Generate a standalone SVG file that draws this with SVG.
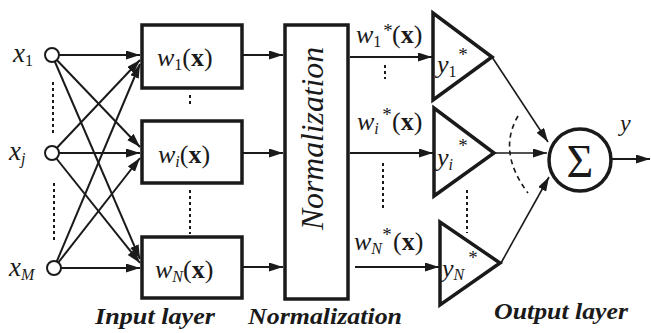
<svg xmlns="http://www.w3.org/2000/svg" width="651" height="333" viewBox="0 0 651 333">
<style>
text{font-family:"Liberation Serif","Times New Roman",serif;fill:#1a1a1a}
.it{font-style:italic}
.bd{font-weight:bold}
.sub{font-size:16px}
.star{font-size:19px}
.box{fill:#fff;stroke:#1a1a1a;stroke-width:3.5}
.inp{fill:#fff;stroke:#1a1a1a;stroke-width:2}
.ln{stroke:#1a1a1a;stroke-width:2;fill:none}
.thin{stroke:#1a1a1a;stroke-width:1.6;fill:none}
.dot{stroke:#1a1a1a;stroke-width:2;stroke-dasharray:3 3;fill:none}
.cap{font-size:23px;font-weight:bold;font-style:italic}
</style>
<defs>
<marker id="ah" markerUnits="userSpaceOnUse" markerWidth="15" markerHeight="10" refX="14" refY="4.5" orient="auto">
<path d="M0,0 L14,4.5 L0,9 z" fill="#1a1a1a"/>
</marker>
</defs>
<g id="connectors">
<line class="ln" x1="52" y1="55" x2="140" y2="55" marker-end="url(#ah)"/>
<line class="ln" x1="52" y1="153" x2="140" y2="60" marker-end="url(#ah)"/>
<line class="ln" x1="54" y1="268" x2="140" y2="64" marker-end="url(#ah)"/>
<line class="ln" x1="52" y1="55" x2="140" y2="147" marker-end="url(#ah)"/>
<line class="ln" x1="52" y1="153" x2="140" y2="153" marker-end="url(#ah)"/>
<line class="ln" x1="54" y1="268" x2="140" y2="158" marker-end="url(#ah)"/>
<line class="ln" x1="52" y1="55" x2="140" y2="259" marker-end="url(#ah)"/>
<line class="ln" x1="52" y1="153" x2="140" y2="263" marker-end="url(#ah)"/>
<line class="ln" x1="54" y1="268" x2="140" y2="268" marker-end="url(#ah)"/>
<line class="ln" x1="243" y1="55" x2="283" y2="55" marker-end="url(#ah)"/>
<line class="ln" x1="243" y1="153" x2="283" y2="153" marker-end="url(#ah)"/>
<line class="ln" x1="243" y1="267" x2="283" y2="267" marker-end="url(#ah)"/>
<line class="ln" x1="350" y1="57" x2="432" y2="57" marker-end="url(#ah)"/>
<line class="ln" x1="350" y1="153" x2="433" y2="153" marker-end="url(#ah)"/>
<line class="ln" x1="355" y1="267" x2="439" y2="267" marker-end="url(#ah)"/>
<line class="thin" x1="492" y1="57" x2="548" y2="142" marker-end="url(#ah)"/>
<line class="thin" x1="495" y1="153" x2="547" y2="153" marker-end="url(#ah)"/>
<line class="thin" x1="501" y1="263" x2="549" y2="177" marker-end="url(#ah)"/>
<line class="ln" x1="612" y1="159" x2="650" y2="159" marker-end="url(#ah)"/>
<line class="dot" x1="53" y1="82" x2="53" y2="134"/>
<line class="dot" x1="54" y1="183" x2="54" y2="241"/>
<line class="dot" x1="190" y1="95" x2="190" y2="106"/>
<line class="dot" x1="190" y1="190" x2="190" y2="234"/>
<line class="dot" x1="385" y1="65" x2="385" y2="79"/>
<line class="dot" x1="383" y1="163" x2="383" y2="211"/>
<line class="dot" x1="467" y1="190" x2="467" y2="233"/>
<path class="thin" d="M518,116 Q497,152 528,193" stroke-dasharray="5 4"/>
</g>
<g id="x1">
<circle class="inp" cx="52" cy="55" r="7"/>
<text x="13" y="62" font-size="27"><tspan class="it">x</tspan><tspan class="sub" dy="4">1</tspan></text>
</g>
<g id="xj">
<circle class="inp" cx="52" cy="153" r="7"/>
<text x="9" y="160" font-size="27"><tspan class="it">x</tspan><tspan class="sub it" dy="4">j</tspan></text>
</g>
<g id="xM">
<circle class="inp" cx="54" cy="268" r="7"/>
<text x="9" y="276" font-size="27"><tspan class="it">x</tspan><tspan class="sub it" dy="4">M</tspan></text>
</g>
<g id="w1">
<rect class="box" x="142" y="25" width="100" height="63"/>
<text x="157" y="66" font-size="26"><tspan class="it">w</tspan><tspan class="sub" dy="4">1</tspan><tspan dy="-4">(</tspan><tspan class="bd">x</tspan>)</text>
</g>
<g id="wi">
<rect class="box" x="142" y="121" width="100" height="62"/>
<text x="158" y="163" font-size="26"><tspan class="it">w</tspan><tspan class="sub it" dy="4">i</tspan><tspan dy="-4">(</tspan><tspan class="bd">x</tspan>)</text>
</g>
<g id="wN">
<rect class="box" x="142" y="237" width="100" height="61"/>
<text x="155" y="278" font-size="26"><tspan class="it">w</tspan><tspan class="sub it" dy="4">N</tspan><tspan dy="-4">(</tspan><tspan class="bd">x</tspan>)</text>
</g>
<g id="normalization">
<rect class="box" x="285" y="25" width="63" height="274"/>
<text class="it" font-size="32" text-anchor="middle" textLength="183" lengthAdjust="spacingAndGlyphs" transform="translate(323,138.5) rotate(-90)">Normalization</text>
</g>
<g id="w1s-label">
<text x="356" y="43" font-size="26"><tspan class="it">w</tspan><tspan class="sub" dy="4">1</tspan></text>
<text class="star" x="388" y="37" text-anchor="middle">*</text>
<text x="392" y="43" font-size="26">(<tspan class="bd">x</tspan>)</text>
</g>
<g id="wis-label">
<text x="357" y="130" font-size="26"><tspan class="it">w</tspan><tspan class="sub it" dy="4">i</tspan></text>
<text class="star" x="387" y="121" text-anchor="middle">*</text>
<text x="392" y="130" font-size="26">(<tspan class="bd">x</tspan>)</text>
</g>
<g id="wNs-label">
<text x="354" y="250" font-size="26"><tspan class="it">w</tspan><tspan class="sub it" dy="4">N</tspan></text>
<text class="star" x="387" y="241" text-anchor="middle">*</text>
<text x="393" y="250" font-size="26">(<tspan class="bd">x</tspan>)</text>
</g>
<g id="y1">
<polygon class="box" points="433,13 433,100 492,57"/>
<text x="437" y="73" font-size="26"><tspan class="it">y</tspan><tspan class="sub" dy="4">1</tspan></text>
<text class="star" x="463" y="61" text-anchor="middle">*</text>
</g>
<g id="yi">
<polygon class="box" points="434,108 434,196 494,153"/>
<text x="437" y="166" font-size="26"><tspan class="it">y</tspan><tspan class="sub it" dy="4">i</tspan></text>
<text class="star" x="463" y="152" text-anchor="middle">*</text>
</g>
<g id="yN">
<polygon class="box" points="440,222 440,305 500,263"/>
<text x="442" y="277" font-size="26"><tspan class="it">y</tspan><tspan class="sub it" dy="3">N</tspan></text>
<text class="star" x="473" y="264" text-anchor="middle">*</text>
</g>
<g id="sum">
<circle cx="580" cy="160" r="31" fill="#fff" stroke="#1a1a1a" stroke-width="3.5"/>
<text x="580" y="177" font-size="46" text-anchor="middle">Σ</text>
<text class="it" x="620" y="131" font-size="24">y</text>
</g>
<g id="captions">
<text class="cap" x="95" y="324" textLength="120" lengthAdjust="spacingAndGlyphs">Input layer</text>
<text class="cap" x="248" y="324" textLength="154" lengthAdjust="spacingAndGlyphs">Normalization</text>
<text class="cap" x="494" y="319" textLength="134" lengthAdjust="spacingAndGlyphs">Output layer</text>
</g>
</svg>
